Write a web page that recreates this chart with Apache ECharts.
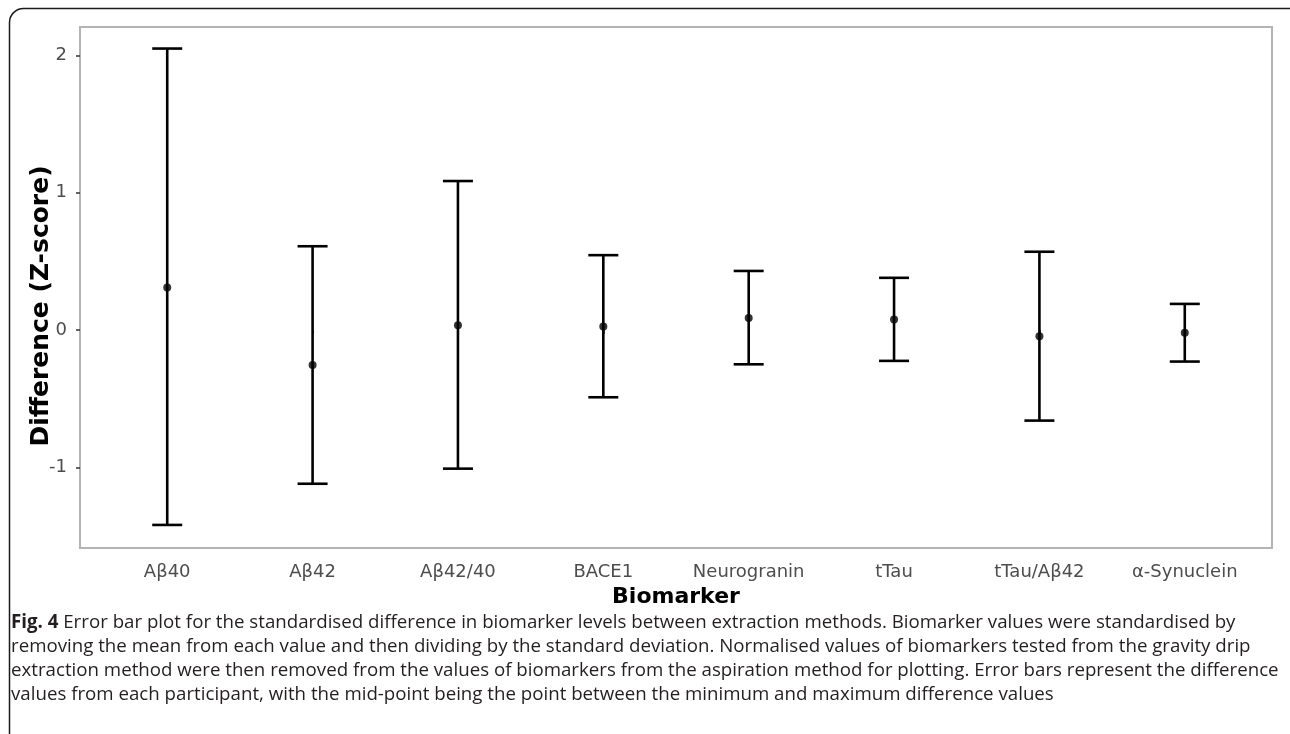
<!DOCTYPE html>
<html>
<head>
<meta charset="utf-8">
<script src="https://cdn.jsdelivr.net/npm/echarts@6/dist/echarts.min.js"></script>
<style>
html,body{margin:0;padding:0;background:#fff;}
#chart{width:1290px;height:734px;}
</style>
</head>
<body>
<div id="chart"></div>
<script>
const categories = ['Aβ40','Aβ42','Aβ42/40','BACE1','Neurogranin','tTau','tTau/Aβ42','α-Synuclein'];
const upperVals = [2.05, 0.61, 1.085, 0.545, 0.43, 0.38, 0.57, 0.19];
const lowerVals = [-1.42, -1.12, -1.01, -0.49, -0.25, -0.225, -0.66, -0.23];
const midVals = [0.31, -0.255, 0.035, 0.025, 0.087, 0.077, -0.045, -0.02];
const yTicks = [-1, 0, 1, 2];
const xTicks = categories.map((c, i) => i + 1);
const yTitle = 'Difference (Z-score)';
const xTitle = 'Biomarker';
const captionLines = [
  'Error bar plot for the standardised difference in biomarker levels between extraction methods. Biomarker values were standardised by',
  'removing the mean from each value and then dividing by the standard deviation. Normalised values of biomarkers tested from the gravity drip',
  'extraction method were then removed from the values of biomarkers from the aspiration method for plotting. Error bars represent the difference',
  'values from each participant, with the mid-point being the point between the minimum and maximum difference values'
];

const chart = echarts.init(document.getElementById('chart'), null, {renderer: 'canvas'});

const errData = categories.map((c, i) => [i + 1, lowerVals[i], upperVals[i]]);
const midData = categories.map((c, i) => [i + 1, midVals[i]]);

const tickFont = 'DejaVu Sans';
const capFont = 'Open Sans';
const option = {
  backgroundColor: '#fff',
  animation: false,
  graphic: [{
    type: 'rect',
    shape: {x: 9.5, y: 8.5, width: 1300, height: 740, r: 14},
    style: {fill: 'none', stroke: '#1a1a1a', lineWidth: 1.5},
    silent: true
  }, {
    type: 'text',
    x: 41, y: 306,
    rotation: Math.PI / 2,
    style: {
      text: yTitle, fontFamily: tickFont, fontWeight: 'bold', fontSize: 25, fill: '#000',
      align: 'center', verticalAlign: 'middle'
    },
    silent: true
  }],
  title: {
    left: 6, top: 606,
    text: '{b|Fig. 4} ' + captionLines.join('\n'),
    textStyle: {
      fontFamily: capFont, fontSize: 18.7, fontWeight: 'normal', color: '#231f20', lineHeight: 24,
      rich: {b: {fontFamily: capFont, fontSize: 18.7, fontWeight: 'bold', color: '#231f20', lineHeight: 24}}
    }
  },
  grid: {
    left: 80, top: 27, right: 18, bottom: 186,
    show: true, borderColor: '#b3b3b3', borderWidth: 2, backgroundColor: '#fff'
  },
  xAxis: {
    type: 'value', min: 0.4, max: 8.6,
    name: xTitle, nameLocation: 'middle', nameGap: 36,
    nameTextStyle: {fontFamily: tickFont, fontWeight: 'bold', fontSize: 22, color: '#000'},
    axisLine: {show: false},
    splitLine: {show: false},
    axisTick: {show: true, customValues: xTicks, length: 4, lineStyle: {color: '#333', width: 1.5}},
    axisLabel: {
      customValues: xTicks, margin: 15,
      fontFamily: tickFont, fontSize: 18, color: '#4d4d4d',
      formatter: v => categories[Math.round(v) - 1] || ''
    }
  },
  yAxis: {
    type: 'value', min: -1.588, max: 2.207,
    axisLine: {show: false},
    splitLine: {show: false},
    axisTick: {show: true, customValues: yTicks, length: 4, lineStyle: {color: '#333', width: 1.5}},
    axisLabel: {
      customValues: yTicks, margin: 13,
      fontFamily: tickFont, fontSize: 18, color: '#4d4d4d'
    }
  },
  series: [{
    type: 'custom',
    data: errData,
    renderItem: function (params, api) {
      const x = api.value(0);
      const lo = api.coord([x, api.value(1)]);
      const hi = api.coord([x, api.value(2)]);
      const hw = 15;
      const style = {stroke: '#000', lineWidth: 2.6, fill: 'none'};
      return {
        type: 'group',
        children: [
          {type: 'line', shape: {x1: lo[0], y1: lo[1], x2: hi[0], y2: hi[1]}, style: style},
          {type: 'line', shape: {x1: hi[0] - hw, y1: hi[1], x2: hi[0] + hw, y2: hi[1]}, style: style},
          {type: 'line', shape: {x1: lo[0] - hw, y1: lo[1], x2: lo[0] + hw, y2: lo[1]}, style: style}
        ]
      };
    },
    encode: {x: 0, y: [1, 2]},
    z: 2
  }, {
    type: 'scatter',
    data: midData,
    symbol: 'circle',
    symbolSize: 8,
    itemStyle: {color: '#000'},
    z: 3
  }]
};
chart.setOption(option);
</script>
</body>
</html>
